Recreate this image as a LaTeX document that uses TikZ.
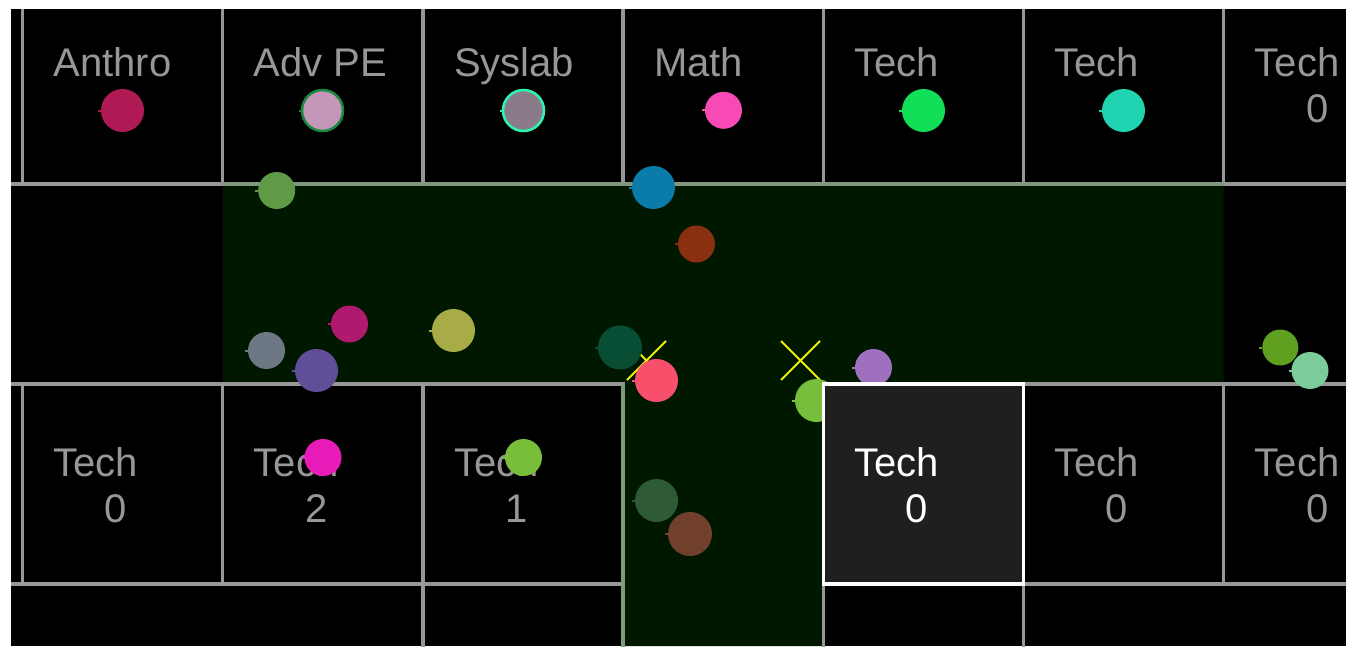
\documentclass[tikz,border=0pt]{standalone}
\usepackage{fontspec}
\setmainfont{Liberation Sans}
\usetikzlibrary{shapes.misc}
\definecolor{gridgray}{HTML}{979797}
\definecolor{halledge}{HTML}{7F987F}
\definecolor{hallfill}{HTML}{001800}
\definecolor{pickfill}{HTML}{1F1F1F}
\definecolor{markyellow}{HTML}{F0F000}
\definecolor{anthroc}{HTML}{AF1A55}
\definecolor{advpec}{HTML}{C496B8}
\definecolor{advpering}{HTML}{1A8A3E}
\definecolor{syslabc}{HTML}{8B7A88}
\definecolor{syslabring}{HTML}{2AF5B5}
\definecolor{mathc}{HTML}{F74AB5}
\definecolor{techa}{HTML}{11DF57}
\definecolor{techb}{HTML}{20D4B2}
\definecolor{grassc}{HTML}{5F9A47}
\definecolor{bluec}{HTML}{0B7BA9}
\definecolor{rustc}{HTML}{8A3010}
\definecolor{plumc}{HTML}{B01A6E}
\definecolor{slatec}{HTML}{6E7884}
\definecolor{violetc}{HTML}{604F98}
\definecolor{olivec}{HTML}{A8AC47}
\definecolor{pinec}{HTML}{074E35}
\definecolor{coralc}{HTML}{F84F6A}
\definecolor{limec}{HTML}{77BE3C}
\definecolor{lilacc}{HTML}{A070C0}
\definecolor{fuchsiac}{HTML}{E81BB9}
\definecolor{sproutc}{HTML}{78BE3A}
\definecolor{forestc}{HTML}{2F5A36}
\definecolor{brownc}{HTML}{70402D}
\definecolor{leafc}{HTML}{5FA020}
\definecolor{mintc}{HTML}{7BCB9B}
\begin{document}
\begin{tikzpicture}[x=1pt,y=-1pt,
  cell/.style={draw=gridgray,line width=3.5pt,minimum width=200.2pt,minimum height=200pt,
    inner sep=0,outer sep=0,anchor=north west},
  room/.style={text=gridgray,font=\fontsize{40}{48}\selectfont,inner sep=0,anchor=base west},
  tally/.style={room,anchor=base},
  dot/.style={circle,fill=#1,inner sep=0,outer sep=0},
  wall/.style={draw=gridgray,line width=3.5pt},
  hall edge/.style={draw=halledge,line width=3.5pt},
  xmark/.style={cross out,draw=markyellow,line width=2pt,minimum size=37pt,inner sep=0}]
  \useasboundingbox (0,0) rectangle (1350,646);
  \fill[white] (0,0) rectangle (1350,646);
  \fill[black] (11,9) rectangle (1346,646);
  \begin{scope}
  \clip (11,9) rectangle (1346,646);
  % hallway
  \fill[hallfill] (222.7,184) rectangle (1223.7,384) (623.1,384) rectangle (823.3,646);
  % rooms
  \foreach \k in {0,...,6}
    \node[cell] (up\k) at ({22.5+200.2*\k},-16) {};
  \foreach \k in {0,1,2,5,6}
    \node[cell] (low\k) at ({22.5+200.2*\k},384) {};
  \foreach \k in {2,4}
    \node[cell] (base\k) at ({22.5+200.2*\k},584) {};
  \coordinate (edgetop) at (11,184);
  \coordinate (edgemid) at (11,384);
  \coordinate (edgelow) at (11,584);
  \draw[wall] (edgetop) -- (up0.south west);
  \draw[wall] (edgemid) -- (low0.north west);
  \draw[wall] (edgelow) -- (low0.south west);
  \draw[hall edge] (up1.south west) -- (up5.south east);
  \draw[hall edge] (low2.north east) -- (base2.south east);
  \foreach \k/\t in {0/Anthro,1/Adv PE,2/Syslab,3/Math,4/Tech,5/Tech,6/Tech}
    \node[room] (upname\k) at ({22.5+200.2*\k+31},76) {\t};
  \node[tally] (upnum6) at ({22.5+200.2*6+93.5},122) {0};
  \foreach \k/\v in {0/0,1/2,2/1,5/0,6/0}{
    \node[room] (lowname\k) at ({22.5+200.2*\k+31},476) {Tech};
    \node[tally] (lownum\k) at ({22.5+200.2*\k+93.5},522) {\v};
  }
  % targets
  \node[xmark] (aimleft) at (646.5,360.5) {};
  \node[xmark] (aimright) at (800.5,360.5) {};
  % people
  \node[dot=advpec,draw=advpering,line width=2.5pt,minimum size=41pt] (advpe) at (322.5,110.5) {};
  \draw[advpering,line width=2pt] (advpe.west) -- +(-3,0);
  \node[dot=syslabc,draw=syslabring,line width=2.5pt,minimum size=41pt] (syslab) at (523.5,110.5) {};
  \draw[syslabring,line width=2pt] (syslab.west) -- +(-3,0);
  \foreach \n/\x/\y/\c/\d in {anthro/122.5/110.5/anthroc/43,math/723.5/110.3/mathc/37,
      techa/923.5/110.5/techa/43,techb/1123.5/110.5/techb/43,grass/276.7/190.5/grassc/37,
      blue/653.5/187.5/bluec/43,rust/696.5/244/rustc/37,plum/349.5/324/plumc/37,
      slate/266.5/350.5/slatec/37,violet/316.5/370.5/violetc/43,olive/453.5/330.5/olivec/43,
      pine/620/347.5/pinec/44,coral/656.5/380.5/coralc/43,lime/816.5/400.5/limec/43,
      lilac/873.5/367.5/lilacc/37,fuchsia/323/457.5/fuchsiac/37,sprout/523.5/457.5/sproutc/37,
      forest/656.5/500.5/forestc/43,brown/690/534/brownc/44,leaf/1280.3/347.5/leafc/36,
      mint/1310/370.5/mintc/37}{
    \node[dot=\c,minimum size=\d pt] (\n) at (\x,\y) {};
    \draw[\c,line width=2pt] (\n.west) -- +(-3,0);
  }
  % selected room
  \node[cell,draw=white,fill=pickfill] (low4) at ({22.5+200.2*4},384) {};
  \node[room,text=white] (lowname4) at ({22.5+200.2*4+31},476) {Tech};
  \node[tally,text=white] (lownum4) at ({22.5+200.2*4+93.5},522) {0};
  \end{scope}
\end{tikzpicture}
\end{document}
